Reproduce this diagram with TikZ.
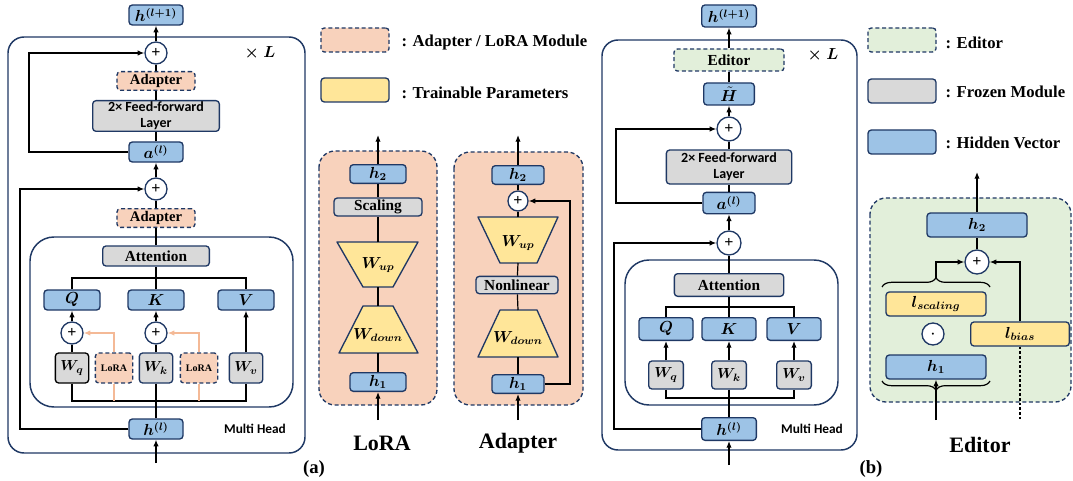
\documentclass[tikz,border=0pt]{standalone}
\usepackage{fontspec}
\usepackage{amsmath}
\usepackage{bm}
\setmainfont{Liberation Serif}
\newfontfamily\calib{Carlito}
\usetikzlibrary{arrows.meta,decorations.pathreplacing}

\definecolor{navy}{RGB}{31,56,100}
\definecolor{hidblue}{RGB}{157,195,230}
\definecolor{frozen}{RGB}{217,217,217}
\definecolor{peach}{RGB}{248,210,188}
\definecolor{peachln}{RGB}{244,185,150}
\definecolor{trnyel}{RGB}{255,230,153}
\definecolor{edgreen}{RGB}{226,239,218}

\tikzset{
  arr/.style={-{Latex[length=5pt,width=4pt]}},
  hid/.style={draw=navy, fill=hidblue, rounded corners=2.5pt, line width=1pt,
    minimum width=40.5pt, minimum height=15pt, font=\fontsize{11.5}{13}\selectfont},
  frz/.style={draw=navy, fill=frozen, rounded corners=2.5pt, line width=1pt,
    font=\bfseries\fontsize{11.5}{13}\selectfont},
  modbox/.style={draw=navy, fill=peach, dash pattern=on 3pt off 2pt, rounded corners=2.5pt,
    line width=1pt, font=\bfseries\fontsize{11}{13}\selectfont},
  edbox/.style={draw=navy, fill=edgreen, dash pattern=on 3pt off 2pt, rounded corners=2.5pt,
    line width=1pt, font=\bfseries\fontsize{11.5}{13}\selectfont},
  trn/.style={draw=navy, fill=trnyel, line width=1pt, line join=round},
  plus/.style={circle, draw=navy, fill=white, line width=1pt, minimum size=16.5pt,
    font=\bfseries\fontsize{12}{12}\selectfont},
  outer/.style={draw=navy, line width=1.1pt, rounded corners=12pt},
  modpanel/.style={draw=navy, fill=peach, line width=1pt, dash pattern=on 3pt off 2pt, rounded corners=12pt},
  edpanel/.style={draw=navy, fill=edgreen, line width=1pt, dash pattern=on 3pt off 2pt, rounded corners=12pt},
  wbox/.style={frz, minimum width=25pt, minimum height=22.5pt, font=\fontsize{11}{13}\selectfont},
  lorabox/.style={modbox, minimum width=28pt, minimum height=22.5pt, font=\bfseries\fontsize{7.5}{8}\selectfont},
  lgtxt/.style={anchor=west, font=\bfseries\fontsize{12.5}{14}\selectfont},
  bigl/.style={font=\bfseries\fontsize{16.5}{18}\selectfont},
  capt/.style={font=\bfseries\fontsize{14}{16}\selectfont},
  mhead/.style={font=\calib\bfseries\fontsize{10}{12}\selectfont},
  ffn/.style={align=center, font=\calib\bfseries\fontsize{10.5}{12}\selectfont},
  xl/.style={font=\fontsize{13}{15}\selectfont},
  trlab/.style={font=\fontsize{12}{14}\selectfont},
}

\begin{document}
\begin{tikzpicture}[x=0.75pt, y=-0.75pt, line width=0.9pt, every node/.append style={inner sep=0pt}]
  \useasboundingbox (0,0) rectangle (1073,481);

  % legends
  \node[modbox, minimum width=51pt, minimum height=18pt] (lgmod) at (355,40) {};
  \node[lgtxt] (lgmodt) at (401,42) {: Adapter / LoRA Module};
  \node[trn, rounded corners=2.5pt, minimum width=51pt, minimum height=18pt] (lgtrn) at (355,90) {};
  \node[lgtxt] (lgtrnt) at (401,93) {: Trainable Parameters};
  \node[edbox, minimum width=51pt, minimum height=18pt] (lged) at (902,40) {};
  \node[lgtxt] (lgedt) at (945,43) {: Editor};
  \node[frz, minimum width=51pt, minimum height=18pt] (lgfrz) at (902,91) {};
  \node[lgtxt] (lgfrzt) at (945,92) {: Frozen Module};
  \node[hid, minimum width=51pt, minimum height=18pt] (lghid) at (902,142) {};
  \node[lgtxt] (lghidt) at (945,143) {: Hidden Vector};

  % (a) transformer layer
  \draw[outer] (8,37) rectangle (305,453);
  \draw[outer, rounded corners=18pt] (30,237) rectangle (293,407);
  \node[hid] (hna) at (156,15) {$\bm{h^{(l+1)}}$};
  \node[plus] (p1a) at (156,53) {+};
  \node[xl] (xla) at (260,53) {$\bm{\times}\;\bm{L}$};
  \node[modbox, minimum width=58.5pt, minimum height=14pt] (ad1a) at (156,81) {Adapter};
  \node[frz, ffn, minimum width=95pt, minimum height=23pt] (ffa) at (156,116) {2× Feed-forward\\Layer};
  \node[hid] (aa) at (156,152) {$\bm{a^{(l)}}$};
  \node[plus] (p2a) at (156,189) {+};
  \node[modbox, minimum width=58.5pt, minimum height=14pt] (ad2a) at (156,218) {Adapter};
  \node[frz, minimum width=80pt, minimum height=15pt] (atta) at (156,256) {Attention};
  \node[hid, minimum width=42pt] (qa) at (72,300) {$\bm{Q}$};
  \node[hid, minimum width=42pt] (ka) at (156,300) {$\bm{K}$};
  \node[hid, minimum width=42pt] (va) at (246,300) {$\bm{V}$};
  \node[plus] (pqa) at (72,333) {+};
  \node[plus] (pka) at (156,333) {+};
  \node[wbox, draw=black] (wqa) at (72,368) {$\bm{W_q}$};
  \node[lorabox] (lr1a) at (114,368) {LoRA};
  \node[wbox] (wka) at (156,368) {$\bm{W_k}$};
  \node[lorabox] (lr2a) at (199,368) {LoRA};
  \node[wbox] (wva) at (246,368) {$\bm{W_v}$};
  \node[hid] (hla) at (156,429) {$\bm{h^{(l)}}$};
  \node[mhead] (mha) at (255,429) {Multi Head};
  \node[capt] (capa) at (314,469) {(a)};
  \coordinate (ajoin) at (156,278);
  \coordinate (abot) at (156,401);
  \coordinate (sk1a) at (29,53);
  \coordinate (sk2a) at (20,189);
  \coordinate (ina) at (156,463);

  \draw[arr] (ina) -- (hla);
  \draw[line width=1.6pt] (hla) -- (abot);
  \draw (wqa.south) |- (abot) -| (wva.south);
  \draw (wka) -- (abot);
  \draw[peachln] (lr1a.south) -- (lr1a.south |- abot);
  \draw[peachln] (lr2a.south) -- (lr2a.south |- abot);
  \draw[peachln, arr] (lr1a.north) |- (pqa.east);
  \draw[peachln, arr] (lr2a.north) |- (pka.east);
  \draw (wqa) -- (pqa);
  \draw (wka) -- (pka);
  \draw[arr] (pqa) -- (qa);
  \draw[arr] (pka) -- (ka);
  \draw[arr] (wva) -- (va);
  \draw (qa.north) |- (ajoin) -| (va.north);
  \draw (ka) -- (atta);
  \draw (atta) -- (ad2a);
  \draw (ad2a) -- (p2a);
  \draw[arr] (p2a) -- (aa);
  \draw[arr] (hla.west) -| (sk2a) -- (p2a.west);
  \draw (aa) -- (ffa);
  \draw (ffa) -- (ad1a);
  \draw (ad1a) -- (p1a);
  \draw[arr] (p1a) -- (hna);
  \draw[arr] (aa.west) -| (sk1a) -- (p1a.west);

  % LoRA module
  \draw[modpanel] (319,151) rectangle (437,405);
  \node[hid, minimum width=42pt, minimum height=14pt] (h2l) at (378,174) {$\bm{h_2}$};
  \node[frz, minimum width=66pt, minimum height=13.5pt] (scl) at (378,207) {Scaling};
  \draw[trn] (337,242) -- (418,242) -- (393,287) -- (363,287) -- cycle;
  \node[trlab] (wul) at (378,265) {$\bm{W_{up}}$};
  \draw[trn] (363,306) -- (393,306) -- (418,353) -- (339,353) -- cycle;
  \node[trlab] (wdl) at (378,335) {$\bm{W_{down}}$};
  \node[hid, minimum width=42pt, minimum height=14pt] (h1l) at (378,382) {$\bm{h_1}$};
  \node[bigl] (capl) at (382,443) {LoRA};
  \coordinate (wult) at (378,242);
  \coordinate (wulb) at (378,287);
  \coordinate (wdlt) at (378,306);
  \coordinate (wdlb) at (378,353);
  \coordinate (inl) at (378,420);
  \coordinate (outl) at (378,135);
  \draw[arr] (inl) -- (h1l);
  \draw (h1l) -- (wdlb);
  \draw (wdlt) -- (wulb);
  \draw (wult) -- (scl);
  \draw (scl) -- (h2l);
  \draw[arr] (h2l) -- (outl);

  % Adapter module
  \draw[modpanel] (454,152) rectangle (583,405);
  \node[hid, minimum width=39pt, minimum height=14pt] (h2d) at (518,175) {$\bm{h_2}$};
  \node[plus, minimum size=15pt] (pd) at (518,201) {+};
  \draw[trn] (478,217) -- (558,217) -- (537,263) -- (500,263) -- cycle;
  \node[trlab] (wud) at (518,243) {$\bm{W_{up}}$};
  \node[frz, minimum width=61.5pt, minimum height=13pt] (nld) at (517,285) {Nonlinear};
  \draw[trn] (500,310) -- (537,310) -- (558,357) -- (478,357) -- cycle;
  \node[trlab] (wdd) at (518,338) {$\bm{W_{down}}$};
  \node[hid, minimum width=39pt, minimum height=14pt] (h1d) at (518,384) {$\bm{h_1}$};
  \node[bigl] (capd) at (518,443) {Adapter};
  \coordinate (wudt) at (518,217);
  \coordinate (wudb) at (518,263);
  \coordinate (wddt) at (518,310);
  \coordinate (wddb) at (518,357);
  \coordinate (skd) at (570,201);
  \coordinate (ind) at (518,420);
  \coordinate (outd) at (518,135);
  \draw[arr] (ind) -- (h1d);
  \draw (h1d) -- (wddb);
  \draw (wddt) -- (nld);
  \draw (nld) -- (wudb);
  \draw (wudt) -- (pd);
  \draw (pd) -- (h2d);
  \draw[arr] (h2d) -- (outd);
  \draw[arr] (h1d.east) -| (skd) -- (pd.east);

  % (b) transformer layer with editor
  \draw[outer] (602,40) rectangle (857,450);
  \draw[outer, rounded corners=18pt] (625,260) rectangle (838,405);
  \node[hid, minimum width=41pt, minimum height=16.5pt] (hnb) at (729,16) {$\bm{h^{(l+1)}}$};
  \node[xl] (xlb) at (823,55) {$\bm{\times}\;\bm{L}$};
  \node[edbox, minimum width=82.5pt, minimum height=16.5pt] (edb) at (729,60) {Editor};
  \node[hid, minimum width=38pt, minimum height=16.5pt] (htb) at (729,94) {$\bm{\tilde{H}}$};
  \node[plus, minimum size=18pt] (p1b) at (729,129) {+};
  \node[frz, ffn, minimum width=94pt, minimum height=25.5pt] (ffb) at (729,167) {2× Feed-forward\\Layer};
  \node[hid, minimum width=39pt, minimum height=16pt] (ab) at (729,203) {$\bm{a^{(l)}}$};
  \node[plus, minimum size=18pt] (p2b) at (729,243) {+};
  \node[frz, minimum width=82pt, minimum height=17pt] (attb) at (729,285) {Attention};
  \node[hid, minimum width=40.5pt, minimum height=17pt] (qb) at (666,329) {$\bm{Q}$};
  \node[hid, minimum width=40.5pt, minimum height=17pt] (kb) at (729,329) {$\bm{K}$};
  \node[hid, minimum width=40.5pt, minimum height=17pt] (vb) at (794,329) {$\bm{V}$};
  \node[wbox, minimum width=26pt, minimum height=21pt] (wqb) at (666,375) {$\bm{W_q}$};
  \node[wbox, minimum width=26pt, minimum height=21pt] (wkb) at (729,375) {$\bm{W_k}$};
  \node[wbox, minimum width=26pt, minimum height=21pt] (wvb) at (794,375) {$\bm{W_v}$};
  \node[hid, minimum width=41pt, minimum height=17pt] (hlb) at (729,429) {$\bm{h^{(l)}}$};
  \node[mhead] (mhb) at (812,429) {Multi Head};
  \node[capt] (capb) at (871,469) {(b)};
  \coordinate (bjoin) at (729,307);
  \coordinate (bbot) at (729,398);
  \coordinate (sk1b) at (616,129);
  \coordinate (sk2b) at (614,243);
  \coordinate (inb) at (729,465);

  \draw[arr] (inb) -- (hlb);
  \draw (hlb) -- (bbot);
  \draw (wqb.south) |- (bbot) -| (wvb.south);
  \draw (wkb) -- (bbot);
  \draw[arr] (wqb) -- (qb);
  \draw[arr] (wkb) -- (kb);
  \draw[arr] (wvb) -- (vb);
  \draw (qb.north) |- (bjoin) -| (vb.north);
  \draw (kb) -- (attb);
  \draw (attb) -- (p2b);
  \draw[arr] (p2b) -- (ab);
  \draw[arr] (hlb.west) -| (sk2b) -- (p2b.west);
  \draw (ab) -- (ffb);
  \draw (ffb) -- (p1b);
  \draw[arr] (p1b) -- (htb);
  \draw[arr] (ab.west) -| (sk1b) -- (p1b.west);
  \draw (htb) -- (edb);
  \draw[arr] (edb) -- (hnb);

  % Editor module
  \draw[edpanel] (870,198) rectangle (1071,402);
  \node[hid, minimum width=75pt, minimum height=18pt] (h2e) at (977,225) {$\bm{h_2}$};
  \node[plus, minimum size=18pt] (pe) at (977,262) {+};
  \node[trn, rounded corners=2.5pt, minimum width=75pt, minimum height=18pt, trlab] (lse) at (936,304) {$\bm{l_{scaling}}$};
  \node[circle, draw=navy, fill=white, line width=1pt, minimum size=16.5pt] (dote) at (933,334) {$\bm{\cdot}$};
  \node[trn, rounded corners=2.5pt, minimum width=74pt, minimum height=18pt, trlab] (lbe) at (1020,334) {$\bm{l_{bias}}$};
  \node[hid, minimum width=75pt, minimum height=18pt] (h1e) at (936,367) {$\bm{h_1}$};
  \node[bigl] (cape) at (980,445) {Editor};
  \draw[decorate, decoration={brace, amplitude=7pt}] (882,287) -- (990,287);
  \draw[decorate, decoration={brace, amplitude=7pt}] (990,381) -- (882,381);
  \coordinate (bte) at (936,278);
  \coordinate (ine) at (936,420);
  \coordinate (lbin) at (1020,420);
  \coordinate (oute) at (977,172);
  \draw[arr] (ine) -- (h1e);
  \draw[arr] (bte) |- (pe.west);
  \draw[arr] (lbe.north) |- (pe.east);
  \draw[dash pattern=on 2pt off 1.5pt] (lbe.south) -- (lbin);
  \draw (pe) -- (h2e);
  \draw[arr] (h2e) -- (oute);
\end{tikzpicture}
\end{document}
